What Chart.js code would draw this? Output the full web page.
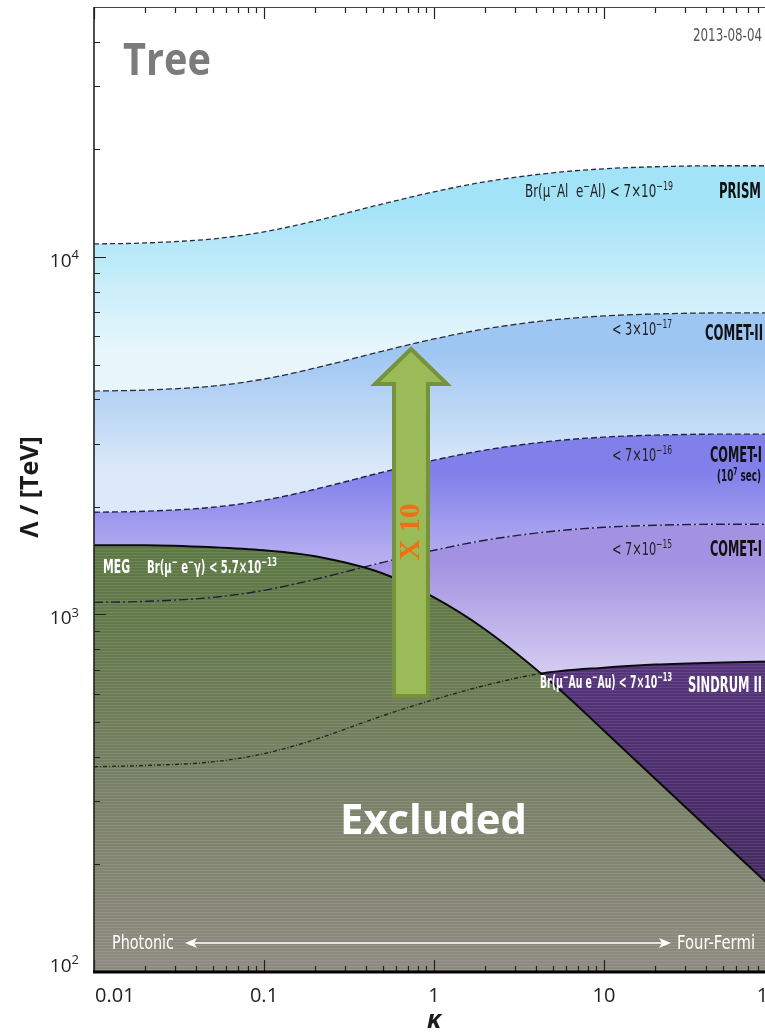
<!DOCTYPE html>
<html>
<head>
<meta charset="utf-8">
<script src="https://cdn.jsdelivr.net/npm/chart.js@4.4.0/dist/chart.umd.min.js"></script>
<style>
  html, body { margin: 0; padding: 0; background: #fff; overflow: hidden; }
  #wrap { width: 800px; height: 1033px; }
</style>
</head>
<body>
<div id="wrap"><canvas id="lfvChart" width="800" height="1033"></canvas></div>
<script>
// kappa grid and Lambda [TeV]
const kappa = [0.01, 0.02, 0.05, 0.1, 0.2, 0.5, 1, 2, 5, 10, 20, 50, 100];
const prism = [10870, 10940, 11230, 11750, 12610, 14070, 15210, 16220, 17190, 17640, 17870, 17990, 17990];
const comet2 = [4215, 4242, 4353, 4554, 4890, 5455, 5895, 6289, 6665, 6837, 6926, 6971, 6971];
const comet1Long = [1931, 1944, 1994, 2087, 2240, 2500, 2701, 2882, 3054, 3133, 3174, 3194, 3194];
const comet1 = [1081, 1088, 1116, 1168, 1254, 1399, 1512, 1613, 1709, 1753, 1776, 1788, 1788];
const meg = [1561, 1561, 1541, 1511, 1454, 1302, 1116, 908, 641, 473, 347, 231, 170];
const sindrumKappa = [0.01, 0.02, 0.05, 0.1, 0.2, 0.5, 1, 2, 4.2, 10, 20, 50, 100];
const sindrum = [375, 378, 387, 408, 447, 521, 578, 633, 683, 710, 724, 734, 739];

const xTicks = [0.01, 0.1, 1, 10, 100];
const xTickLabels = ["0.01", "0.1", "1", "10", "100"];
const yTicks = [100, 1000, 10000];
const yTickLabels = [["10", "2"], ["10", "3"], ["10", "4"]];

const NARROW = '"Liberation Sans Narrow", "DejaVu Sans Condensed", "DejaVu Sans", sans-serif';
const SANS = '"Open Sans", "DejaVu Sans", sans-serif';

function pts(xs, ys) {
  return xs.map((x, i) => ({ x: x, y: ys[i] }));
}

function bandGradient(topVal, botVal, topColor, botColor) {
  return (context) => {
    const chart = context.chart;
    if (!chart.chartArea) return topColor;
    const y = chart.scales.y;
    const g = chart.ctx.createLinearGradient(0, y.getPixelForValue(topVal), 0, y.getPixelForValue(botVal));
    g.addColorStop(0, topColor);
    g.addColorStop(1, botColor);
    return g;
  };
}

function stripedFill(stops) {
  let cache = null;
  return (context) => {
    const chart = context.chart;
    if (!chart.chartArea) return stops[0][1];
    if (cache) return cache;
    const h = chart.height;
    const c = document.createElement("canvas");
    c.width = 4;
    c.height = h;
    const cx = c.getContext("2d");
    const y = chart.scales.y;
    const g = cx.createLinearGradient(0, 0, 0, h);
    stops.forEach(([v, col]) => {
      g.addColorStop(Math.min(1, Math.max(0, y.getPixelForValue(v) / h)), col);
    });
    cx.fillStyle = g;
    cx.fillRect(0, 0, 4, h);
    cx.fillStyle = "rgba(255,255,255,0.10)";
    for (let r = 0; r < h; r += 3) cx.fillRect(0, r, 4, 1);
    cache = chart.ctx.createPattern(c, "repeat");
    return cache;
  };
}

// text with superscripts: odd parts are raised
function drawRich(ctx, parts, x, y, opt) {
  const size = opt.size;
  const weight = opt.weight || "normal";
  const style = opt.style || "normal";
  const family = opt.family || NARROW;
  const base = `${style} ${weight} ${size}px ${family}`;
  const sup = `${style} ${weight} ${Math.round(size * 0.68)}px ${family}`;
  ctx.save();
  ctx.fillStyle = opt.color;
  ctx.textBaseline = "alphabetic";
  ctx.textAlign = "left";
  let w = 0;
  parts.forEach((p, i) => {
    ctx.font = i % 2 ? sup : base;
    w += ctx.measureText(p).width;
  });
  const sx = opt.width ? opt.width / w : 1;
  ctx.translate(x, y);
  ctx.scale(sx, 1);
  let cx = opt.align === "right" ? -w : opt.align === "center" ? -w / 2 : 0;
  parts.forEach((p, i) => {
    ctx.font = i % 2 ? sup : base;
    ctx.fillText(p, cx, i % 2 ? -size * 0.4 : 0);
    cx += ctx.measureText(p).width;
  });
  ctx.restore();
}

const decorations = {
  id: "decorations",
  afterDatasetsDraw(chart) {
    const ctx = chart.ctx;

    drawRich(ctx, ["Tree"], 123, 75, { size: 45, weight: "bold", family: SANS, color: "#7b7b7b", width: 88 });
    drawRich(ctx, ["2013-08-04"], 693, 41, { size: 18, color: "#555", width: 69 });

    drawRich(ctx, ["Br(\u03bc", "\u2212", "Al  e", "\u2212", "Al) < 7\u00d710", "\u221219"], 673, 197,
      { size: 18, color: "#222", align: "right", width: 148 });
    drawRich(ctx, ["PRISM"], 719, 198, { size: 21, weight: "bold", color: "#111", width: 42 });

    drawRich(ctx, ["< 3\u00d710", "\u221217"], 672, 335, { size: 18, color: "#222", align: "right", width: 60 });
    drawRich(ctx, ["COMET-II"], 705, 340, { size: 21, weight: "bold", color: "#111", width: 58 });

    drawRich(ctx, ["< 7\u00d710", "\u221216"], 672, 461, { size: 18, color: "#222", align: "right", width: 60 });
    drawRich(ctx, ["COMET-I"], 710, 462, { size: 21, weight: "bold", color: "#111", width: 52 });
    drawRich(ctx, ["(10", "7", " sec)"], 717, 481, { size: 15, weight: "bold", color: "#111", width: 44 });

    drawRich(ctx, ["< 7\u00d710", "\u221215"], 672, 555, { size: 18, color: "#222", align: "right", width: 60 });
    drawRich(ctx, ["COMET-I"], 710, 556, { size: 21, weight: "bold", color: "#111", width: 52 });

    drawRich(ctx, ["MEG"], 103, 573, { size: 19, weight: "bold", color: "#fff", width: 27 });
    drawRich(ctx, ["Br(\u03bc", "\u2212", " e", "\u2212", "\u03b3) < 5.7\u00d710", "\u221213"], 147, 573,
      { size: 17, weight: "bold", color: "#fff", width: 130 });

    drawRich(ctx, ["Br(\u03bc", "\u2212", "Au e", "\u2212", "Au) < 7\u00d710", "\u221213"], 540, 688,
      { size: 17, weight: "bold", color: "#fff", width: 132 });
    drawRich(ctx, ["SINDRUM II"], 688, 692, { size: 21, weight: "bold", color: "#fff", width: 74 });

    drawRich(ctx, ["Excluded"], 340, 834, { size: 42, weight: "bold", family: SANS, color: "#fff", width: 187 });

    drawRich(ctx, ["Photonic"], 112, 949, { size: 19, color: "#fff", width: 62 });
    drawRich(ctx, ["Four-Fermi"], 677, 949, { size: 19, color: "#fff", width: 78 });
    ctx.save();
    ctx.strokeStyle = "#fff";
    ctx.fillStyle = "#fff";
    ctx.lineWidth = 1.5;
    ctx.beginPath();
    ctx.moveTo(190, 943);
    ctx.lineTo(666, 943);
    ctx.stroke();
    ctx.beginPath();
    ctx.moveTo(185, 943); ctx.lineTo(197, 938); ctx.lineTo(194, 943); ctx.lineTo(197, 948); ctx.closePath();
    ctx.fill();
    ctx.beginPath();
    ctx.moveTo(671, 943); ctx.lineTo(659, 938); ctx.lineTo(662, 943); ctx.lineTo(659, 948); ctx.closePath();
    ctx.fill();
    ctx.restore();

    // x10 arrow
    ctx.save();
    ctx.beginPath();
    ctx.moveTo(411, 349);
    ctx.lineTo(447, 384);
    ctx.lineTo(428, 384);
    ctx.lineTo(428, 696);
    ctx.lineTo(394, 696);
    ctx.lineTo(394, 384);
    ctx.lineTo(375, 384);
    ctx.closePath();
    ctx.fillStyle = "#9bbb59";
    ctx.fill();
    ctx.lineWidth = 4;
    ctx.lineJoin = "miter";
    ctx.strokeStyle = "#76923c";
    ctx.stroke();
    ctx.translate(411, 532);
    ctx.rotate(-Math.PI / 2);
    ctx.font = 'bold 29px "Liberation Serif", "DejaVu Serif", serif';
    ctx.fillStyle = "#ee7014";
    ctx.textAlign = "center";
    ctx.textBaseline = "middle";
    ctx.fillText("X 10", 0, 1);
    ctx.restore();
  },
  afterDraw(chart) {
    const ctx = chart.ctx;
    const { left, right, top, bottom } = chart.chartArea;
    const xs = chart.scales.x;
    const ys = chart.scales.y;
    ctx.save();
    // minor and major ticks, pointing inward
    ctx.strokeStyle = "#222";
    ctx.lineWidth = 1.2;
    ctx.beginPath();
    for (let n = -2; n <= 2; n++) {
      for (let m = 1; m <= 9; m++) {
        const v = m * Math.pow(10, n);
        if (v < 0.01 || v > 100) continue;
        const px = Math.round(xs.getPixelForValue(v)) + 0.5;
        const len = m === 1 ? 12 : 6;
        ctx.moveTo(px, bottom); ctx.lineTo(px, bottom - len);
        ctx.moveTo(px, top); ctx.lineTo(px, top + len);
      }
    }
    for (let n = 2; n <= 4; n++) {
      for (let m = 1; m <= 9; m++) {
        const v = m * Math.pow(10, n);
        if (v > 50000) continue;
        const py = Math.round(ys.getPixelForValue(v)) + 0.5;
        const len = m === 1 ? 12 : 6;
        ctx.moveTo(left, py); ctx.lineTo(left + len, py);
      }
    }
    ctx.stroke();
    // frame
    ctx.strokeStyle = "#444";
    ctx.lineWidth = 1;
    ctx.beginPath();
    ctx.moveTo(left, top + 0.5); ctx.lineTo(right, top + 0.5);
    ctx.stroke();
    ctx.strokeStyle = "#222";
    ctx.lineWidth = 1.6;
    ctx.beginPath();
    ctx.moveTo(left, top); ctx.lineTo(left, bottom);
    ctx.stroke();
    ctx.strokeStyle = "#000";
    ctx.lineWidth = 3;
    ctx.beginPath();
    ctx.moveTo(left - 1, bottom); ctx.lineTo(right, bottom);
    ctx.stroke();

    // tick labels
    ctx.fillStyle = "#222";
    ctx.font = `20px ${SANS}`;
    ctx.textAlign = "center";
    ctx.textBaseline = "alphabetic";
    xTicks.forEach((v, i) => {
      const w = ctx.measureText(xTickLabels[i]).width;
      const px = Math.max(xs.getPixelForValue(v), left + w / 2 + 1);
      ctx.fillText(xTickLabels[i], px, 1002);
    });
    yTicks.forEach((v, i) => {
      const py = Math.min(ys.getPixelForValue(v) + 10, bottom);
      drawRich(ctx, yTickLabels[i], 79, py, { size: 19, family: SANS, color: "#222", align: "right" });
    });

    // axis titles
    drawRich(ctx, ["\u03ba"], xs.getPixelForValue(1), 1028,
      { size: 25, weight: "bold", style: "italic", family: SANS, color: "#1a1a1a", align: "center" });
    ctx.fillStyle = "#1a1a1a";
    ctx.textAlign = "center";
    ctx.translate(31, 487);
    ctx.rotate(-Math.PI / 2);
    ctx.textBaseline = "middle";
    ctx.font = `bold 25px ${SANS}`;
    ctx.fillText("\u039b / [TeV]", 0, 0);
    ctx.restore();
  }
};

const fillBase = {
  borderWidth: 0,
  borderColor: "rgba(0,0,0,0)",
  pointRadius: 0,
  cubicInterpolationMode: "monotone"
};
const lineBase = {
  fill: false,
  pointRadius: 0,
  cubicInterpolationMode: "monotone"
};

new Chart(document.getElementById("lfvChart"), {
  type: "line",
  data: {
    datasets: [
      { ...fillBase, label: "PRISM band", data: pts(kappa, prism), fill: 1, order: 20,
        backgroundColor: bandGradient(prism[5], comet2[5], "#a2e3f7", "#e8f6fc") },
      { ...fillBase, label: "COMET-II band", data: pts(kappa, comet2), fill: 2, order: 19,
        backgroundColor: bandGradient(comet2[5], comet1Long[5], "#9ec6f2", "#dce9f9") },
      { ...fillBase, label: "COMET-I long band", data: pts(kappa, comet1Long), fill: 3, order: 18,
        backgroundColor: bandGradient(comet1Long[5], comet1[5], "#8180ea", "#b9b1f1") },
      { ...fillBase, label: "COMET-I band", data: pts(kappa, comet1), fill: "start", order: 17,
        backgroundColor: bandGradient(comet1[5], 600, "#a392e2", "#ddd7f4") },
      { ...fillBase, label: "SINDRUM region", data: pts(sindrumKappa, sindrum), fill: "start", order: 16,
        backgroundColor: stripedFill([[740, "#55347b"], [300, "#4a2c6a"], [100, "#3e2a54"]]) },
      { ...fillBase, label: "MEG region", data: pts(kappa, meg), fill: "start", order: 15,
        backgroundColor: stripedFill([[1560, "#5c7843"], [800, "#667a4e"], [350, "#778065"], [100, "#8e8a80"]]) },

      { ...lineBase, label: "PRISM", data: pts(kappa, prism), order: 5,
        borderColor: "#2c2c3c", borderWidth: 1.3, borderDash: [5, 3] },
      { ...lineBase, label: "COMET-II", data: pts(kappa, comet2), order: 5,
        borderColor: "#2c2c3c", borderWidth: 1.3, borderDash: [6, 3] },
      { ...lineBase, label: "COMET-I (1e7 sec)", data: pts(kappa, comet1Long), order: 5,
        borderColor: "#23234a", borderWidth: 1.4, borderDash: [6, 3] },
      { ...lineBase, label: "COMET-I", data: pts(kappa, comet1), order: 5,
        borderColor: "#1f1f3a", borderWidth: 1.4, borderDash: [9, 3, 2, 3] },
      { ...lineBase, label: "SINDRUM II", data: pts(sindrumKappa, sindrum), order: 4,
        borderColor: "#111", borderWidth: 1.4,
        segment: {
          borderDash: (c) => (c.p0.parsed.x >= 4.2 ? [] : [4, 2, 1, 2]),
          borderWidth: (c) => (c.p0.parsed.x >= 4.2 ? 2 : 1.4),
          borderColor: (c) => (c.p0.parsed.x >= 4.2 ? "#0b0b12" : "#1d2a16")
        } },
      { ...lineBase, label: "MEG", data: pts(kappa, meg), order: 3,
        borderColor: "#0b0b0b", borderWidth: 2 }
    ]
  },
  options: {
    responsive: false,
    animation: false,
    layout: { padding: { left: 0, top: 7, right: 26, bottom: 0 } },
    plugins: {
      legend: { display: false },
      tooltip: { enabled: false }
    },
    scales: {
      x: {
        type: "logarithmic",
        min: 0.01,
        max: 100,
        grid: { display: false },
        border: { display: false },
        ticks: { display: false },
        afterFit: (scale) => { scale.height = 61; }
      },
      y: {
        type: "logarithmic",
        min: 100,
        max: 50000,
        grid: { display: false },
        border: { display: false },
        ticks: { display: false },
        afterFit: (scale) => { scale.width = 94; }
      }
    }
  },
  plugins: [decorations]
});
</script>
</body>
</html>
